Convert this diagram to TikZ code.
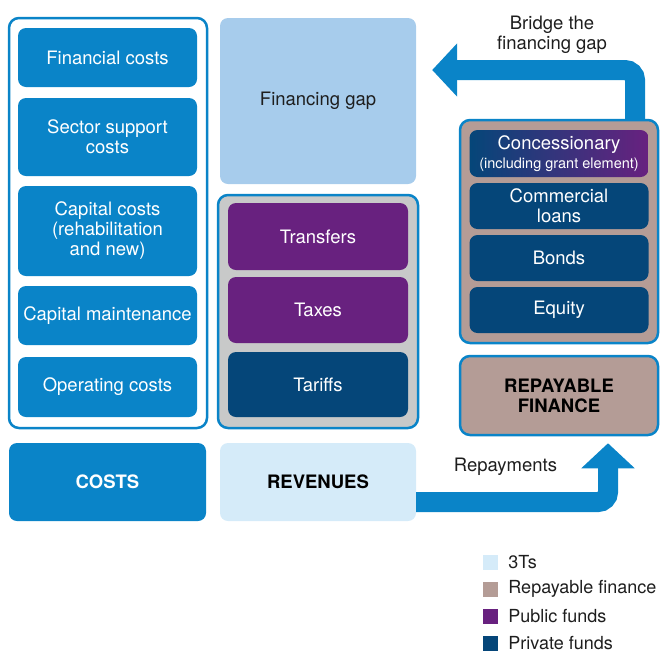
\documentclass[tikz,border=0pt]{standalone}
\usepackage{fontspec}
\setmainfont{TeX Gyre Heros}
\usepackage{tikz}
\usetikzlibrary{arrows.meta,positioning}

\definecolor{costblue}{HTML}{0A84C8}
\definecolor{gapblue}{HTML}{A7CCEC}
\definecolor{pubpurple}{HTML}{68217F}
\definecolor{privblue}{HTML}{054679}
\definecolor{revgray}{HTML}{C8C9C9}
\definecolor{repaybrown}{HTML}{B49C96}
\definecolor{tlight}{HTML}{D5EBF9}
\definecolor{inkgray}{HTML}{1E1E1E}

\begin{document}
\begin{tikzpicture}[x=1pt,y=-1pt,
    txt/.style={font=\fontsize{18.5}{20}\selectfont},
    frame/.style={draw=costblue,line width=2.5pt,rounded corners=10pt,
      minimum width=198pt,inner sep=0pt},
    cell/.style={txt,rounded corners=8pt,text=white,align=center,
      minimum width=179pt,inner sep=0pt},
    head/.style={rounded corners=8pt,align=center,inner sep=0pt,
      minimum width=197pt,minimum height=78pt,
      font=\fontsize{18.5}{20}\selectfont\bfseries},
    flow/.style={draw=costblue,line width=20pt,rounded corners=10pt,
      -{Triangle[length=25pt,width=52pt]}},
    sq/.style={minimum size=15pt,inner sep=0pt},
    legtext/.style={font=\fontsize{18}{20}\selectfont,text=inkgray,inner sep=0pt,anchor=west}]
  \useasboundingbox (0,0) rectangle (660,654);

  % costs column
  \node[frame,fill=white,minimum height=410pt] (costs) at (108,223) {};
  \node[cell,fill=costblue,minimum height=59pt] (fc) at (107.5,57.5) {Financial costs};
  \node[cell,fill=costblue,minimum height=78pt] (ss) at (107.5,137) {Sector support\\costs};
  \node[cell,fill=costblue,minimum height=90pt] (cc) at (107.5,231) {Capital costs\\(rehabilitation\\and new)};
  \node[cell,fill=costblue,minimum height=59pt] (cm) at (107.5,315.5) {Capital maintenance};
  \node[cell,fill=costblue,minimum height=60pt] (oc) at (107.5,387) {Operating costs};
  \node[head,fill=costblue,text=white] (costhead) at (107.5,482) {COSTS};

  % revenues column
  \node[txt,rounded corners=8pt,fill=gapblue,text=inkgray,minimum width=196pt,
    minimum height=166pt] (gap) at (318,101) {Financing gap};
  \node[frame,fill=revgray,minimum width=200pt,minimum height=233pt] (rev) at (318,311.5) {};
  \node[cell,fill=pubpurple,minimum width=180pt,minimum height=67pt] (tr) at (318,236.5) {Transfers};
  \node[cell,fill=pubpurple,minimum width=180pt,minimum height=66pt] (tx) at (318,310) {Taxes};
  \node[cell,fill=privblue,minimum width=180pt,minimum height=65pt] (tf) at (318,384.5) {Tariffs};
  \node[head,fill=tlight,text=black,minimum width=196pt] (revhead) at (318,482) {REVENUES};

  % repayable finance column
  \node[frame,fill=repaybrown,minimum height=223pt] (fin) at (559,231.5) {};
  \node[cell,left color=privblue,right color=pubpurple,minimum height=47pt] (conc) at (559,153.5)
    {Concessionary\\[-1pt]{\fontsize{14.5}{16}\selectfont(including grant element)}};
  \node[cell,fill=privblue,minimum height=46pt] (comm) at (559,206) {Commercial\\loans};
  \node[cell,fill=privblue,minimum height=46pt] (bonds) at (559,258) {Bonds};
  \node[cell,fill=privblue,minimum height=46pt] (eq) at (559,310) {Equity};
  \node[frame,fill=repaybrown,minimum height=79pt,
    font=\fontsize{18.5}{20}\selectfont\bfseries,align=center] (repay) at (559,395.5)
    {REPAYABLE\\FINANCE};

  % flows
  \coordinate (gaptip) at ([xshift=16pt,yshift=31pt]gap.east);
  \coordinate (repaytip) at ([xshift=49pt,yshift=-7pt]repay.south);
  \draw[flow] ([xshift=76pt]fin.north) |- (gaptip);
  \draw[flow] ([yshift=-20pt]revhead.east) -| (repaytip);
  \node[txt,text=inkgray,align=center] (bridge) at (552,35) {Bridge the\\financing gap};
  \node[txt,text=inkgray] (repaylbl) at (505.5,467) {Repayments};

  % legend
  \node[sq,fill=tlight] (lgA) at (490.5,562) {};
  \node[sq,fill=repaybrown] (lgB) at (490.5,589) {};
  \node[sq,fill=pubpurple] (lgC) at (490.5,616) {};
  \node[sq,fill=privblue] (lgD) at (490.5,643) {};
  \node[legtext,right=10pt of lgA] (lgAt) {3Ts};
  \node[legtext,right=10pt of lgB] (lgBt) {Repayable finance};
  \node[legtext,right=10pt of lgC] (lgCt) {Public funds};
  \node[legtext,right=10pt of lgD] (lgDt) {Private funds};
\end{tikzpicture}
\end{document}
